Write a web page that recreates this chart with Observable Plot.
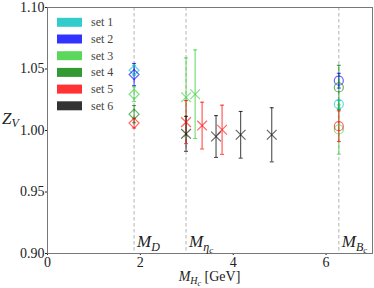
<!DOCTYPE html>
<html><head><meta charset="utf-8">
<script src="https://cdn.jsdelivr.net/npm/d3@7"></script>
<script src="https://cdn.jsdelivr.net/npm/@observablehq/plot@0.6"></script>
<style>
body{margin:0;background:#fff;}
#wrap{position:relative;width:374px;height:288px;}
</style></head><body><div id="wrap"></div>
<script>
const setNames = ["set 1", "set 2", "set 3", "set 4", "set 5", "set 6"];
const setColors = ["#00bfbf", "#0000ff", "#32cd32", "#008000", "#ff0000", "#000000"];

const massX = [1.865, 2.984, 6.275];
const massSub = [["D"], ["η", "c"], ["B", "c"]];

const xTicks = [0, 2, 4, 6];
const yTicks = [0.90, 0.95, 1.00, 1.05, 1.10];

// per set: masses, Z_V values, errors
const set1X = [1.865, 6.275];
const set1Y = [1.049, 1.0214];
const set1E = [0.004, 0.003];

const set2X = [1.865, 6.275];
const set2Y = [1.0455, 1.0405];
const set2E = [0.009, 0.006];

const set3X = [1.865, 2.984, 3.18, 6.275];
const set3Y = [1.0295, 1.027, 1.0295, 1.0008];
const set3E = [0.006, 0.032, 0.036, 0.020];

const set4X = [1.865, 6.275];
const set4Y = [1.0133, 1.035];
const set4E = [0.007, 0.018];

const set5X = [1.865, 2.984, 3.33, 3.76, 6.275];
const set5Y = [1.006, 1.0068, 1.004, 1.0006, 1.0035];
const set5E = [0.004, 0.0175, 0.019, 0.020, 0.0125];

const set6X = [2.984, 3.63, 4.16, 4.83];
const set6Y = [0.9973, 0.9951, 0.9965, 0.9965];
const set6E = [0.0142, 0.017, 0.019, 0.022];

const allX = [set1X, set2X, set3X, set4X, set5X, set6X];
const allY = [set1Y, set2Y, set3Y, set4Y, set5Y, set6Y];
const allE = [set1E, set2E, set3E, set4E, set5E, set6E];

function markerFor(x) {
  if (x === massX[0]) return "diamond2";
  if (x === massX[2]) return "circle";
  return "times";
}

const rows = allX.flatMap((xs, s) => xs.map((x, i) => ({
  set: setNames[s], color: setColors[s], x, y: allY[s][i], e: allE[s][i], marker: markerFor(x)
})));

const capSymbol = {draw(ctx, size) { const h = Math.sqrt(size / Math.PI); ctx.moveTo(-h, 0); ctx.lineTo(h, 0); }};

const chart = Plot.plot({
  width: 374, height: 288,
  marginLeft: 47, marginRight: 2, marginTop: 7, marginBottom: 35,
  style: {fontFamily: "Liberation Serif, serif", fontSize: "14px", background: "white", color: "#222"},
  x: {domain: [0, 7], ticks: xTicks, tickFormat: d3.format("d"), tickSize: 2, tickPadding: 2, label: null},
  y: {domain: [0.9, 1.1], ticks: yTicks, tickFormat: d3.format(".2f"), tickSize: 2, tickPadding: 1, label: null},
  marks: [
    Plot.ruleX(massX, {stroke: "#aaa", strokeDasharray: "3.5,2.5", strokeWidth: 0.9}),
    Plot.ruleX(rows, {x: "x", y1: d => d.y - d.e, y2: d => d.y + d.e, stroke: "color", strokeOpacity: 0.7, strokeWidth: 1.1}),
    Plot.dot(rows, {x: "x", y: d => d.y - d.e, symbol: capSymbol, r: 2, stroke: "color", fill: "none", strokeOpacity: 0.7, strokeWidth: 1.1}),
    Plot.dot(rows, {x: "x", y: d => d.y + d.e, symbol: capSymbol, r: 2, stroke: "color", fill: "none", strokeOpacity: 0.7, strokeWidth: 1.1}),
    Plot.dot(rows, {x: "x", y: "y", symbol: "marker", r: 4.5, stroke: "color", fill: "none", strokeOpacity: 0.6, strokeWidth: 1.2}),
    Plot.frame({stroke: "#777"})
  ]
});

const wrap = document.getElementById("wrap");
wrap.appendChild(chart);

const svg = d3.select(chart);
const xs = chart.scale("x");
const ys = chart.scale("y");

// mass annotations
massX.forEach((mx, i) => {
  const t = svg.append("text")
    .attr("x", xs.apply(mx) + 3.5)
    .attr("y", ys.apply(0.9) - 6)
    .attr("text-anchor", "start")
    .attr("font-family", "Liberation Serif, serif")
    .attr("font-size", 17)
    .attr("font-style", "italic")
    .attr("fill", "#222");
  t.append("tspan").text("M");
  const sub = massSub[i];
  t.append("tspan").attr("font-size", 12).attr("dy", 4).text(sub[0]);
  if (sub[1]) t.append("tspan").attr("font-size", 9).attr("dy", 2).text(sub[1]);
});

// y label Z_V
const zl = svg.append("text").attr("x", 2).attr("y", 124).attr("text-anchor", "start")
  .attr("font-family", "Liberation Serif, serif").attr("font-size", 17).attr("font-style", "italic").attr("fill", "#222");
zl.append("tspan").text("Z");
zl.append("tspan").attr("font-size", 12).attr("dy", 3).text("V");

// x label
const xl = svg.append("text").attr("x", (xs.range[0] + xs.range[1]) / 2).attr("y", 281)
  .attr("text-anchor", "middle")
  .attr("font-family", "Liberation Serif, serif").attr("font-size", 14).attr("fill", "#222");
xl.append("tspan").attr("font-style", "italic").text("M");
xl.append("tspan").attr("font-style", "italic").attr("font-size", 10).attr("dy", 3).text("H");
xl.append("tspan").attr("font-style", "italic").attr("font-size", 8).attr("dy", 2).text("c");
xl.append("tspan").attr("dy", -5).text(" [GeV]");

// legend (inside plot, top-left)
const lg = svg.append("g").attr("transform", "translate(57,22.3)");
setNames.forEach((n, i) => {
  const g = lg.append("g").attr("transform", `translate(0,${i * 16.7})`);
  g.append("rect").attr("x", 0).attr("y", -4.5).attr("width", 25).attr("height", 9)
    .attr("fill", setColors[i]).attr("fill-opacity", 0.8);
  g.append("text").attr("x", 34).attr("y", 4).attr("text-anchor", "start")
    .attr("font-family", "Liberation Serif, serif").attr("font-size", 12).attr("fill", "#444").text(n);
});
</script></body></html>
